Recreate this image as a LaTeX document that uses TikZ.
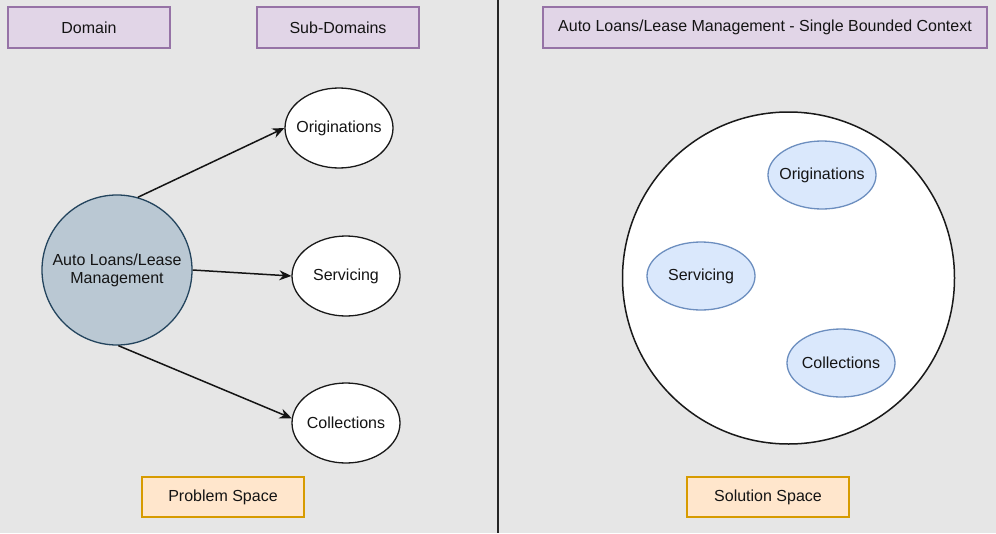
\documentclass[tikz,border=0pt]{standalone}
\usepackage{fontspec}
\setmainfont{Liberation Sans}
\usetikzlibrary{arrows.meta,shapes.geometric}
\definecolor{bg}{HTML}{E6E6E6}
\definecolor{purfill}{HTML}{E1D5E7}
\definecolor{purdraw}{HTML}{9673A6}
\definecolor{orfill}{HTML}{FFE6CC}
\definecolor{ordraw}{HTML}{D79B00}
\definecolor{blfill}{HTML}{DAE8FC}
\definecolor{bldraw}{HTML}{6C8EBF}
\definecolor{gyfill}{HTML}{BAC8D3}
\definecolor{gydraw}{HTML}{23445D}
\tikzset{
  txt/.style={font=\fontsize{16}{18}\selectfont, text=black!92},
  purbox/.style={txt, draw=purdraw, fill=purfill, line width=1.4pt, minimum height=41pt, inner sep=0pt},
  orbox/.style={txt, draw=ordraw, fill=orfill, line width=1.4pt, minimum width=162pt, minimum height=40pt, inner sep=0pt},
  subell/.style={txt, ellipse, draw=black!90, fill=white, line width=1.3pt, minimum width=108pt, minimum height=80pt, inner xsep=-14pt, inner ysep=0pt},
  inell/.style={txt, ellipse, draw=bldraw, fill=blfill, line width=1.3pt, minimum width=108pt, minimum height=68pt, inner xsep=-14pt, inner ysep=0pt},
  arr/.style={-{Stealth[length=12pt,width=10pt]}, line width=1.5pt, black!92},
}
\begin{document}
\begin{tikzpicture}[x=1pt,y=-1pt]
\fill[bg] (0,0) rectangle (996,533);
\useasboundingbox (0,0) rectangle (996,533);
\coordinate (dtop) at (497.5,0);
\coordinate (dbot) at (497.5,533);
\draw[line width=2pt, black!85] (dtop) -- (dbot);

\node[purbox, minimum width=162pt] (domain) at (89,27.5) {Domain};
\node[purbox, minimum width=162pt] (subdom) at (338,27.5) {Sub-Domains};
\node[purbox, minimum width=444pt] (ctx) at (765,27.5) {Auto Loans/Lease Management - Single Bounded Context};

\node[orbox] (prob) at (223,497) {Problem Space};
\node[orbox] (sol) at (768,497) {Solution Space};

\node[txt, circle, draw=gydraw, fill=gyfill, line width=1.3pt, minimum size=150pt, inner sep=0pt, align=center] (auto) at (117,270) {Auto Loans/Lease\\Management};

\node[subell] (orig) at (339,128) {Originations};
\node[subell] (serv) at (346,276) {Servicing};
\node[subell] (coll) at (346,423) {Collections};

\draw[arr] (auto.74) -- (orig.west);
\draw[arr] (auto.0) -- (serv.west);
\draw[arr] (auto.-89) -- (coll.175);

\node[circle, draw=black!90, fill=white, line width=1.5pt, minimum size=332pt, inner sep=0pt] (bc) at (788.5,278) {};
\node[inell] (iorig) at (822,175) {Originations};
\node[inell] (iserv) at (701,276) {Servicing};
\node[inell] (icoll) at (841,363) {Collections};
\end{tikzpicture}
\end{document}
